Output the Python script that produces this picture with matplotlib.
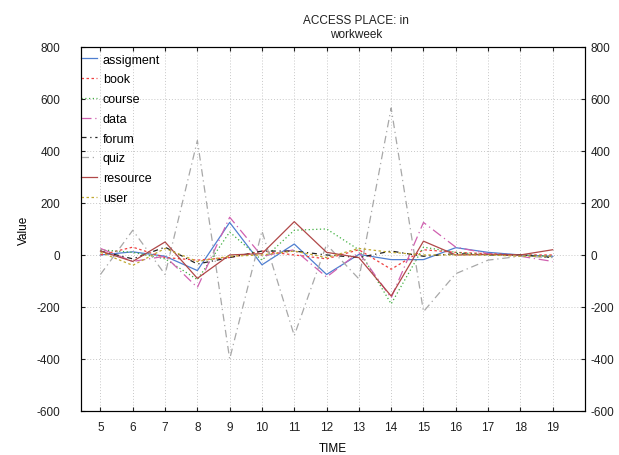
import numpy as np
import matplotlib
matplotlib.use("Agg")
import matplotlib.pyplot as plt

plt.rcParams['font.family'] = ['Liberation Sans', 'DejaVu Sans']
plt.rcParams['font.size'] = 8.5
plt.rcParams['axes.unicode_minus'] = False

time = [5, 6, 7, 8, 9, 10, 11, 12, 13, 14, 15, 16, 17, 18, 19]

assigment = [0, 12, -5, -60, 125, -38, 42, -75, 2, -18, -18, 28, 10, 0, -5]
book = [0, 30, -10, -20, -10, 15, 0, -15, 20, -55, 20, 10, 5, 0, 0]
course = [20, 10, -15, -95, 88, -20, 95, 100, 20, -188, 30, 10, 0, 0, -5]
data = [25, -25, -5, -125, 145, -5, 20, -85, 10, -165, 125, 30, 5, -5, -25]
forum = [15, -15, 30, -35, -10, 15, 15, 0, -10, 15, -5, 5, 0, 0, -10]
quiz = [-75, 95, -75, 440, -400, 92, -310, 40, -92, 565, -218, -72, -20, -5, -10]
resource = [15, -25, 50, -90, 0, 5, 128, 10, -10, -158, 53, 0, 2, 0, 20]
user = [10, -40, 25, -25, -5, 0, 15, -10, 25, 10, 0, 0, 0, -5, -5]

series = [
    ("assigment", assigment, "#4f7fd0", "-"),
    ("book", book, "#f04040", (0, (2, 2))),
    ("course", course, "#40b040", (0, (1, 2))),
    ("data", data, "#d060b0", (0, (8, 3, 1, 3))),
    ("forum", forum, "#202020", (0, (4, 3, 1, 3))),
    ("quiz", quiz, "#a8a8a8", (0, (6, 3, 1, 3))),
    ("resource", resource, "#b04848", "-"),
    ("user", user, "#c0a830", (0, (2, 2))),
]

fig = plt.figure(figsize=(6.19, 4.56), dpi=100)
ax = fig.add_axes([0.131, 0.0965, 0.814, 0.7985])

for name, vals, col, ls in series:
    ax.plot(time, vals, color=col, linestyle=ls, linewidth=0.9, label=name)

ax.set_xlim(4.4, 20.0)
ax.set_ylim(-600, 800)
ax.set_xticks(time)
ax.set_yticks(np.arange(-600, 801, 200))
ax.grid(True, color="#c8c8c8", linestyle=(0, (1, 2)), linewidth=0.7)
ax.tick_params(direction="in", top=True, right=True, length=3, colors="#202020")
ax.tick_params(axis="y", pad=15)
ax.tick_params(axis="x", pad=7)
for s in ax.spines.values():
    s.set_color("#202020")
    s.set_linewidth(0.8)

# right-hand copy of the value axis
ax2 = ax.twinx()
ax2.set_ylim(ax.get_ylim())
ax2.set_yticks(np.arange(-600, 801, 200))
ax2.tick_params(direction="in", length=3, pad=4, colors="#202020")

ax.set_xlabel("TIME", labelpad=7)
ax.set_ylabel("Value", labelpad=5)
ax.text(0.546, 1.02, "ACCESS PLACE: in\nworkweek", transform=ax.transAxes,
        ha="center", va="bottom", fontsize=8.5, color="#202020")

leg = ax.legend(loc="upper left", frameon=False, handlelength=1.3, handletextpad=0.45,
                labelspacing=0.62, borderaxespad=0.0, bbox_to_anchor=(-0.01, 0.995), fontsize=9)

fig.savefig("out.png", dpi=100)
